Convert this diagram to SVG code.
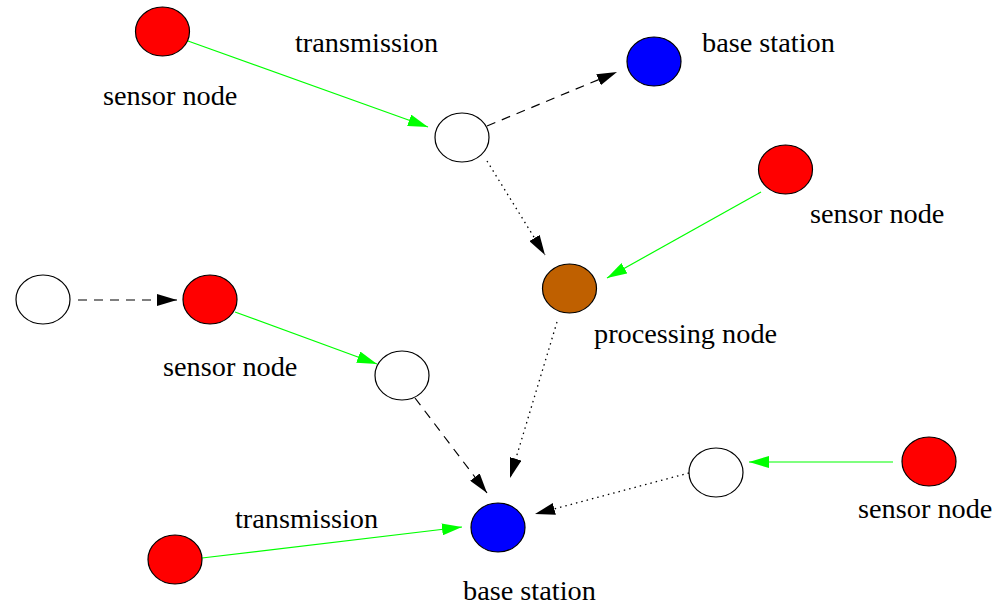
<svg xmlns="http://www.w3.org/2000/svg" width="993" height="606" viewBox="0 0 993 606">
<style>
.n{stroke:#000;stroke-width:1.2}
.red{fill:#ff0000}.blue{fill:#0000ff}.white{fill:#fff}.brown{fill:#bf6000}
text{font-family:"Liberation Serif","Times New Roman",serif;font-size:28.3px;fill:#000}
.g{stroke:#00ff00;stroke-width:1.2;fill:none}
.d{stroke:#000;stroke-width:1.2;fill:none;stroke-dasharray:9 7}
.o{stroke:#000;stroke-width:1.3;fill:none;stroke-dasharray:1.5 4}
</style>
<defs>
<marker id="ag" markerUnits="userSpaceOnUse" markerWidth="20" markerHeight="12" viewBox="0 0 20 12" refX="20" refY="6" orient="auto"><path d="M0,0 L20,6 L0,12 Z" fill="#00ff00"/></marker>
<marker id="ab" markerUnits="userSpaceOnUse" markerWidth="20" markerHeight="12" viewBox="0 0 20 12" refX="20" refY="6" orient="auto"><path d="M0,0 L20,6 L0,12 Z" fill="#000"/></marker>
</defs>
<g id="connectors">
<line class="g" x1="188" y1="41" x2="428" y2="127" marker-end="url(#ag)"/>
<line class="d" x1="487" y1="126" x2="617" y2="72" marker-end="url(#ab)"/>
<line class="o" x1="487" y1="161" x2="545" y2="255" marker-end="url(#ab)"/>
<line class="g" x1="761" y1="192" x2="607" y2="278" marker-end="url(#ag)"/>
<line class="d" x1="78" y1="300" x2="177" y2="300" marker-end="url(#ab)"/>
<line class="g" x1="235" y1="312" x2="377" y2="364" marker-end="url(#ag)"/>
<line class="d" x1="415" y1="398" x2="487" y2="493" marker-end="url(#ab)"/>
<line class="o" x1="557" y1="322" x2="510" y2="478" marker-end="url(#ab)"/>
<line class="o" x1="689" y1="473" x2="535" y2="514" marker-end="url(#ab)"/>
<line class="g" x1="893" y1="462" x2="749" y2="462" marker-end="url(#ag)"/>
<line class="g" x1="202" y1="558" x2="462" y2="527" marker-end="url(#ag)"/>
</g>
<g id="sensor1"><ellipse class="n red" cx="162.5" cy="31.5" rx="27" ry="24.5"/><text x="103" y="105">sensor node</text></g>
<g id="label-transmission-top"><text x="295" y="52">transmission</text></g>
<g id="relay1"><ellipse class="n white" cx="462" cy="137.5" rx="27" ry="24.5"/></g>
<g id="base1"><ellipse class="n blue" cx="654" cy="61.5" rx="27" ry="24.5"/><text x="702" y="52">base station</text></g>
<g id="sensor2"><ellipse class="n red" cx="785.5" cy="169.5" rx="27" ry="24.5"/><text x="810" y="223">sensor node</text></g>
<g id="processing"><ellipse class="n brown" cx="569.5" cy="288.5" rx="27" ry="24.5"/><text x="594" y="343">processing node</text></g>
<g id="relay2"><ellipse class="n white" cx="43" cy="299.5" rx="27" ry="24.5"/></g>
<g id="sensor3"><ellipse class="n red" cx="210" cy="299.5" rx="27" ry="24.5"/><text x="163" y="376">sensor node</text></g>
<g id="relay3"><ellipse class="n white" cx="402" cy="375.5" rx="27" ry="24.5"/></g>
<g id="relay4"><ellipse class="n white" cx="716" cy="472.5" rx="27" ry="24.5"/></g>
<g id="sensor4"><ellipse class="n red" cx="929" cy="461.5" rx="27" ry="24.5"/><text x="858" y="518">sensor node</text></g>
<g id="base2"><ellipse class="n blue" cx="498" cy="527.5" rx="27" ry="24.5"/><text x="463" y="600">base station</text></g>
<g id="sensor5"><ellipse class="n red" cx="175" cy="559.5" rx="27" ry="24.5"/></g>
<g id="label-transmission-bottom"><text x="235" y="528">transmission</text></g>
</svg>
